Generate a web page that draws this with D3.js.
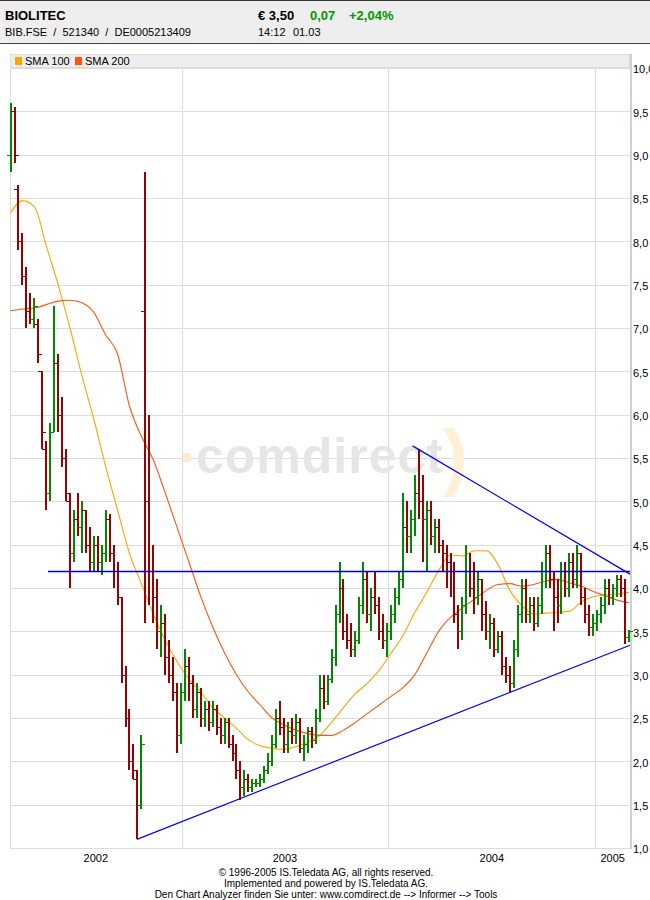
<!DOCTYPE html>
<html><head><meta charset="utf-8">
<script src="https://cdn.jsdelivr.net/npm/d3@7"></script>
<style>
body{margin:0;background:#fff;}
svg{display:block;font-family:"Liberation Sans",Arial,sans-serif;}
</style>
</head><body>
<svg id="c" width="650" height="900"></svg>
<script>
// ---------- data ----------
const startDate = "2002-03-04";
const endDate = "2005-03-03";
// weekly OHLC bars (week i starts at startDate + 7*i days)
const opens = [9.0,9.5,8.6,8.0,7.6,7.2,7.1,7.05,6.5,5.6,5.1,5.8,6.6,6.0,5.5,5.0,4.4,4.8,4.7,4.9,4.5,4.3,4.5,4.3,4.4,4.8,4.4,4.2,3.9,3.0,2.5,2.0,1.8,1.5,7.2,5.0,4.2,3.9,3.5,3.6,3.2,3.0,2.8,2.3,2.8,3.1,2.9,2.6,2.8,2.5,2.6,2.45,2.6,2.4,2.3,2.45,2.2,2.1,1.9,1.7,1.8,1.7,1.75,1.75,1.8,1.9,2.0,2.2,2.5,2.4,2.2,2.35,2.3,2.45,2.15,2.2,2.35,2.25,2.5,2.85,2.7,2.95,3.2,3.7,4.0,3.5,3.4,3.3,3.4,3.8,4.1,3.7,3.9,3.8,3.5,3.4,3.5,3.7,3.9,4.1,4.7,4.6,4.8,5.1,5.0,4.8,4.9,4.6,4.7,4.5,4.4,4.3,4.2,3.7,3.5,3.8,4.2,4.0,3.9,4.1,3.7,3.5,3.6,3.3,3.45,3.1,3.0,2.9,3.3,3.7,4.0,3.7,3.8,3.6,3.8,4.2,4.4,4.1,3.9,3.8,4.2,4.0,4.3,4.1,4.4,3.9,3.7,3.55,3.6,3.7,3.8,4.0,3.9,4.0,4.1,4.0,3.43];
const highs = [9.6,9.55,8.65,8.1,7.7,7.4,7.35,7.1,6.5,5.7,5.9,7.25,6.7,6.2,5.6,5.1,4.9,5.1,5.0,4.9,4.7,4.6,4.6,4.5,4.9,4.85,4.5,4.3,3.9,3.1,2.6,2.2,1.9,2.3,8.8,6.0,4.5,4.1,3.8,3.7,3.4,3.2,2.9,2.9,3.3,3.2,3.0,2.9,2.85,2.7,2.7,2.7,2.65,2.5,2.5,2.5,2.3,2.2,2.0,1.9,1.85,1.8,1.8,1.85,1.95,2.1,2.3,2.6,2.7,2.5,2.45,2.5,2.55,2.5,2.3,2.4,2.4,2.6,3.0,3.0,3.0,3.3,3.8,4.3,4.1,3.7,3.6,3.5,3.9,4.3,4.2,4.0,4.2,3.9,3.7,3.6,3.8,4.0,4.2,5.1,5.0,4.9,5.3,5.6,5.3,5.0,5.0,4.8,4.8,4.55,4.5,4.4,4.3,3.8,3.9,4.5,4.4,4.3,4.2,4.1,3.85,3.7,3.65,3.5,3.5,3.2,3.1,3.4,3.8,4.1,4.1,3.9,3.9,3.9,4.3,4.5,4.5,4.2,4.1,4.3,4.3,4.4,4.4,4.5,4.4,4.0,3.8,3.7,3.75,3.9,4.1,4.1,4.05,4.15,4.15,4.1,3.52];
const lows = [8.8,8.9,7.9,7.5,7.0,7.05,7.0,6.6,5.6,4.9,5.0,5.8,5.8,5.4,5.0,4.0,4.3,4.6,4.4,4.4,4.2,4.2,4.2,4.15,4.3,4.3,4.0,3.8,2.9,2.4,1.9,1.8,1.1,1.45,3.6,3.8,3.6,3.3,3.2,3.0,2.9,2.7,2.1,2.2,2.7,2.7,2.5,2.5,2.4,2.4,2.35,2.4,2.3,2.2,2.2,2.15,2.0,1.8,1.55,1.6,1.65,1.65,1.7,1.7,1.75,1.85,1.95,2.15,2.3,2.1,2.1,2.2,2.2,2.1,2.0,2.1,2.15,2.2,2.45,2.6,2.65,2.9,3.1,3.6,3.4,3.3,3.2,3.2,3.35,3.7,3.6,3.5,3.7,3.4,3.3,3.2,3.4,3.6,3.8,4.0,4.4,4.4,4.6,4.8,4.3,4.2,4.5,4.4,4.4,4.2,4.0,3.9,3.6,3.3,3.4,3.7,3.9,3.7,3.8,3.5,3.4,3.3,3.2,3.25,3.0,2.9,2.8,2.85,3.2,3.6,3.6,3.6,3.5,3.55,3.7,4.0,4.0,3.5,3.6,3.7,3.9,3.9,4.0,4.0,3.8,3.6,3.45,3.45,3.5,3.6,3.7,3.8,3.8,3.9,3.9,3.35,3.38];
const closes = [9.5,9.0,8.0,7.6,7.2,7.1,7.25,6.7,5.8,5.1,5.8,6.6,6.0,5.5,5.1,4.4,4.8,4.7,4.9,4.5,4.3,4.5,4.3,4.4,4.8,4.4,4.2,3.9,3.0,2.5,2.0,1.9,1.5,2.2,5.0,4.2,3.9,3.5,3.6,3.2,3.0,2.8,2.3,2.8,3.1,2.9,2.6,2.8,2.5,2.6,2.45,2.6,2.4,2.3,2.45,2.2,2.1,1.9,1.7,1.8,1.7,1.75,1.75,1.8,1.9,2.0,2.2,2.5,2.4,2.2,2.35,2.3,2.45,2.15,2.2,2.35,2.25,2.5,2.85,2.7,2.95,3.2,3.7,4.0,3.5,3.4,3.3,3.4,3.8,4.1,3.7,3.9,3.8,3.5,3.4,3.5,3.7,3.9,4.1,4.7,4.6,4.8,5.1,5.0,4.8,4.9,4.6,4.7,4.5,4.4,4.3,4.2,3.7,3.5,3.8,4.2,4.0,3.9,4.1,3.7,3.5,3.6,3.3,3.45,3.1,3.0,2.9,3.3,3.7,4.0,3.7,3.8,3.6,3.8,4.2,4.4,4.1,3.9,3.8,4.2,4.0,4.3,4.1,4.4,3.9,3.7,3.55,3.6,3.7,3.8,4.0,3.9,4.0,4.1,4.0,3.43,3.5];
// moving averages sampled every 3 weeks
const sma100 = [8.33,8.47,8.4,7.95,7.5,7.0,6.45,5.95,5.4,4.9,4.4,4.05,3.7,3.4,3.15,2.95,2.8,2.62,2.5,2.38,2.25,2.18,2.15,2.14,2.17,2.22,2.3,2.45,2.62,2.78,2.9,3.05,3.25,3.45,3.72,3.95,4.2,4.38,4.37,4.43,4.43,4.27,3.97,3.8,3.7,3.71,3.72,3.73,3.84,3.9,3.92,3.93,3.95];
const sma200 = [7.2,7.22,7.23,7.27,7.31,7.32,7.29,7.18,6.92,6.7,6.1,5.75,5.48,5.1,4.7,4.3,3.9,3.55,3.25,3.0,2.8,2.65,2.5,2.42,2.36,2.32,2.3,2.3,2.36,2.45,2.55,2.65,2.75,2.85,3.0,3.25,3.5,3.66,3.77,3.87,3.97,4.04,4.05,4.02,4.04,4.08,4.1,4.06,4.02,3.96,3.91,3.86,3.83];
// trend lines [date, value]
const trendLower = [["2002-10-14",1.1],["2005-03-03",3.34]];
const trendUpper = [["2004-02-13",5.64],["2005-03-03",4.16]];
const trendFlat  = [["2002-05-10",4.19],["2005-03-03",4.19]];
const yTicks = [1,1.5,2,2.5,3,3.5,4,4.5,5,5.5,6,6.5,7,7.5,8,8.5,9,9.5,10];
const yearBreaks = ["2003-01-01","2004-01-01","2005-01-01"];
const yearLabels = ["2002","2003","2004","2005"];
const legendItems = ["SMA 100","SMA 200"];
const footerLines = ["\u00a9 1996-2005 IS.Teledata AG, all rights reserved.","Implemented and powered by IS.Teledata AG.","Den Chart Analyzer finden Sie unter: www.comdirect.de --> Informer --> Tools"];

// ---------- drawing ----------
const svg = d3.select("#c");
const parse = d3.timeParse("%Y-%m-%d");
const t0 = parse(startDate), t1 = parse(endDate);
const L = 10, R = 630, T = 68, B = 848;
const x = d3.scaleTime().domain([t0, t1]).range([L, R]);
const y = d3.scaleLinear().domain([1, 10]).range([B, T]);
const GREEN = "#008800", RED = "#990000";
const smaColors = ["#ffa500", "#ff5511"];

// header
svg.append("rect").attr("x",0).attr("y",0).attr("width",650).attr("height",43).attr("fill","#eeeeee");
svg.append("line").attr("x1",0).attr("x2",650).attr("y1",0.5).attr("y2",0.5).attr("stroke","#333");
svg.append("line").attr("x1",0).attr("x2",650).attr("y1",43.5).attr("y2",43.5).attr("stroke","#444");
svg.append("text").attr("x",5).attr("y",20).attr("font-size",13).attr("font-weight","bold").text("BIOLITEC");
svg.append("text").attr("x",5).attr("y",36).attr("font-size",11).attr("xml:space","preserve").style("white-space","pre").text("BIB.FSE  /  521340  /  DE0005213409");
svg.append("text").attr("x",258).attr("y",20).attr("font-size",13).attr("font-weight","bold").text("\u20ac 3,50");
svg.append("text").attr("x",310).attr("y",20).attr("font-size",13).attr("font-weight","bold").attr("fill","#009900").text("0,07");
svg.append("text").attr("x",349).attr("y",20).attr("font-size",13).attr("font-weight","bold").attr("fill","#009900").text("+2,04%");
svg.append("text").attr("x",258).attr("y",36).attr("font-size",11).text("14:12");
svg.append("text").attr("x",293).attr("y",36).attr("font-size",11).text("01.03");

// legend band
svg.append("rect").attr("x",L+0.5).attr("y",54.5).attr("width",R-L-1).attr("height",13).attr("fill","#eeeeee").attr("stroke","#dddddd");
const lx = [15, 75];
legendItems.forEach((s, i) => {
  svg.append("rect").attr("x",lx[i]).attr("y",57).attr("width",7).attr("height",8).attr("fill",smaColors[i]);
  svg.append("text").attr("x",lx[i]+10).attr("y",65).attr("font-size",11).text(s);
});

// grid
const grid = svg.append("g").attr("shape-rendering","crispEdges");
grid.selectAll("line.h").data(yTicks).join("line")
  .attr("x1",L).attr("x2",R).attr("y1",d=>Math.round(y(d))+0.5).attr("y2",d=>Math.round(y(d))+0.5)
  .attr("stroke","#dddddd");
grid.selectAll("line.v").data(yearBreaks.map(parse)).join("line")
  .attr("x1",d=>Math.round(x(d))+0.5).attr("x2",d=>Math.round(x(d))+0.5).attr("y1",T).attr("y2",B+1)
  .attr("stroke","#dddddd");
grid.append("line").attr("x1",L+0.5).attr("x2",L+0.5).attr("y1",T).attr("y2",B+1).attr("stroke","#dddddd");
grid.append("line").attr("x1",R+0.5).attr("x2",R+0.5).attr("y1",T-14).attr("y2",B+1).attr("stroke","#d0d0d0").attr("stroke-width",2);

// watermark
const wm = svg.append("g");
wm.append("rect").attr("x",183).attr("y",453).attr("width",8).attr("height",9).attr("fill","#ffeccc");
wm.append("text").attr("x",196).attr("y",473).attr("font-size",50).attr("font-weight","bold").attr("fill","#e6e6e6").attr("letter-spacing",1).text("comdirect");
wm.append("text").attr("x",443).attr("y",482).attr("font-size",74).attr("font-weight","bold").attr("fill","#fff0d6").text(")");

// SMA lines
const smaDate = i => d3.timeDay.offset(t0, 21*i + 1);
[sma100, sma200].forEach((s, k) => {
  svg.append("path").datum(s).attr("d", d3.line().x((d,i)=>x(smaDate(i))).y(d=>y(d)).curve(d3.curveMonotoneX))
    .attr("fill","none").attr("stroke",smaColors[k]).attr("stroke-width",1.1);
});

// OHLC bars
const bars = opens.map((o,i)=>({date:d3.timeDay.offset(t0, 7*i+1), o, h:highs[i], l:lows[i], c:closes[i]}));
const px = d => Math.round(x(d.date));
const bg = svg.append("g").attr("shape-rendering","crispEdges");
const bar = bg.selectAll("g").data(bars).join("g")
  .attr("stroke", d => d.c >= d.o ? GREEN : RED);
bar.append("line").attr("stroke-width",2).attr("x1",px).attr("x2",px).attr("y1",d=>Math.round(y(d.h))).attr("y2",d=>Math.round(y(d.l)));
bar.append("line").attr("stroke-width",1.6).attr("x1",d=>px(d)-4).attr("x2",d=>px(d)).attr("y1",d=>Math.round(y(d.o))+0.5).attr("y2",d=>Math.round(y(d.o))+0.5);
bar.append("line").attr("stroke-width",1.6).attr("x1",px).attr("x2",d=>px(d)+4).attr("y1",d=>Math.round(y(d.c))+0.5).attr("y2",d=>Math.round(y(d.c))+0.5);

// trend lines
[trendLower, trendUpper, trendFlat].forEach((tl, k) => {
  svg.append("line")
    .attr("x1", x(parse(tl[0][0]))).attr("y1", y(tl[0][1]))
    .attr("x2", x(parse(tl[1][0]))).attr("y2", y(tl[1][1]))
    .attr("stroke", k===2 ? "#0000cc" : "#0000ff").attr("stroke-width", k===2 ? 1.5 : 1.2);
});

// y axis (right)
const yAxis = d3.axisRight(y).tickValues(yTicks).tickSize(0).tickPadding(3)
  .tickFormat(d => d3.format(".1f")(d).replace(".", ","));
const ya = svg.append("g").attr("transform",`translate(${R},0)`).call(yAxis);
ya.select(".domain").remove();
ya.selectAll("text").attr("font-size",11).attr("fill","#000").attr("font-family","Liberation Sans, Arial, sans-serif").attr("dy","0.45em");

// year labels centered in each visible year
const years = yearLabels.map((lab, i) => {
  const a = i === 0 ? t0 : parse(yearBreaks[i-1]);
  const b = i === yearLabels.length-1 ? t1 : parse(yearBreaks[i]);
  return {lab, xm: (x(a)+x(b))/2};
});
svg.selectAll("text.yr").data(years).join("text").attr("class","yr")
  .attr("x",d=>d.xm).attr("y",862).attr("text-anchor","middle").attr("font-size",11).text(d=>d.lab);

// footer
svg.selectAll("text.ft").data(footerLines).join("text").attr("class","ft")
  .attr("x",326).attr("y",(d,i)=>876+i*11).attr("text-anchor","middle").attr("font-size",10).text(d=>d);
</script>
</body></html>
